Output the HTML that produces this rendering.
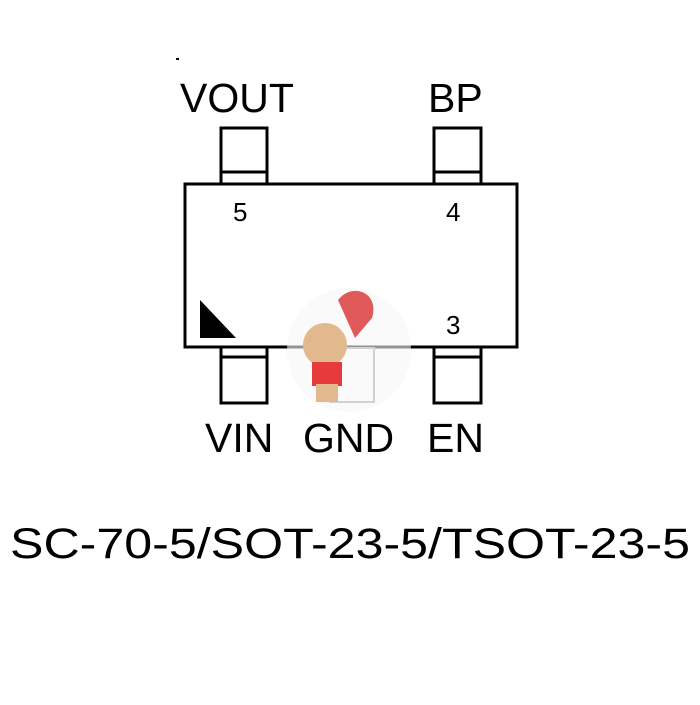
<!DOCTYPE html>
<html><head><style>body{margin:0;background:#fff}</style></head><body>
<svg width="700" height="700" viewBox="0 0 700 700" xmlns="http://www.w3.org/2000/svg" font-family="Liberation Sans, sans-serif">
<rect width="700" height="700" fill="#fff"/>
<g fill="none" stroke="#000" stroke-width="3">
<rect x="185" y="184" width="332" height="163"/>
<rect x="221" y="128" width="46" height="56"/><line x1="221" y1="172" x2="267" y2="172"/>
<rect x="434" y="128" width="47" height="56"/><line x1="434" y1="172" x2="481" y2="172"/>
<rect x="221" y="347" width="46" height="56"/><line x1="221" y1="357" x2="267" y2="357"/>
<rect x="434" y="347" width="47" height="56"/><line x1="434" y1="357" x2="481" y2="357"/>
</g>
<g fill="none" stroke="#999" stroke-width="2">
<rect x="330" y="348" width="44" height="54"/>
</g>
<circle cx="349" cy="350" r="62" fill="#f6f6f6" opacity="0.6"/>
<path d="M338 300 C352 282 380 292 372 318 L355 338 Z" fill="#e05a5a"/>
<circle cx="325" cy="345" r="22" fill="#e2b98c"/>
<rect x="312" y="362" width="30" height="24" fill="#e53b3b"/>
<rect x="316" y="384" width="22" height="18" fill="#e2b98c"/>
<polygon points="200,300 200,338 236,338" fill="#000"/>
<g font-size="26" fill="#000">
<text x="233" y="221">5</text><text x="446" y="221">4</text><text x="446" y="334">3</text>
</g>
<g font-size="41" fill="#000">
<text x="180" y="112">VOUT</text><text x="428" y="112">BP</text>
<text x="205" y="452">VIN</text><text x="303" y="452">GND</text><text x="427" y="452">EN</text>
</g>
<text x="10" y="558" font-size="43" textLength="680" lengthAdjust="spacingAndGlyphs">SC-70-5/SOT-23-5/TSOT-23-5</text>
<rect x="176" y="58" width="3" height="2" fill="#000"/>
</svg>
</body></html>
